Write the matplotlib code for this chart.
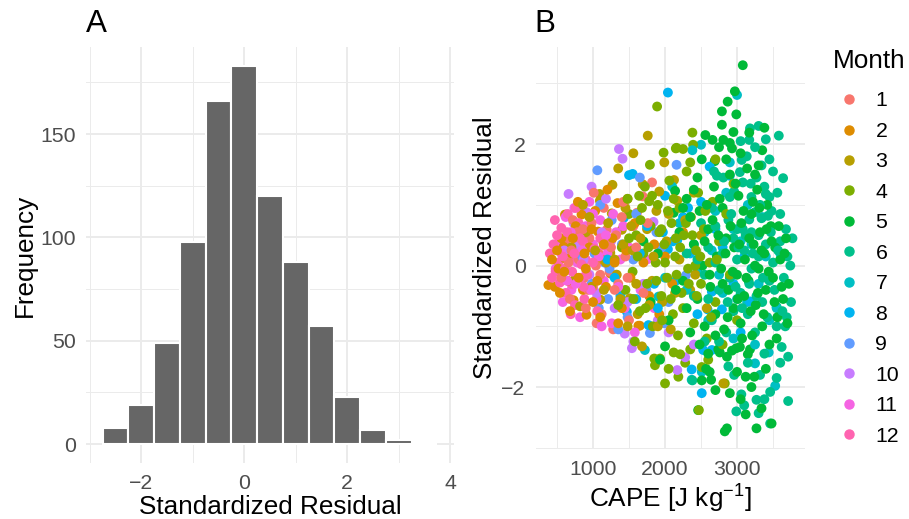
import matplotlib
matplotlib.use('Agg')
import matplotlib.pyplot as plt
from matplotlib.lines import Line2D

plt.rcParams['font.family'] = ['Liberation Sans', 'DejaVu Sans']
plt.rcParams['mathtext.fontset'] = 'custom'
plt.rcParams['mathtext.rm'] = 'Liberation Sans'
plt.rcParams['mathtext.it'] = 'Liberation Sans:italic'

# panel A: histogram of standardized residuals (bin width 0.5)
bin_centers = [-2.5, -2.0, -1.5, -1.0, -0.5, 0.0, 0.5, 1.0, 1.5, 2.0, 2.5, 3.0, 3.5]
counts = [8, 19, 49, 98, 166, 183, 120, 88, 57, 23, 7, 2, 0]

# panel B: (CAPE, standardized residual), by month
m1 = [(1820, 1.37), (1690, 1.14), (1190, 0.59), (1610, 0.87), (840, 0.92), (1050, -0.95), (1280, -1.05),
      (870, -0.21), (750, -0.26), (620, 0.40), (680, -0.55), (720, 0.75), (800, 0.10), (900, -0.70),
      (950, 0.45), (1000, -0.35), (1080, 0.20), (1120, -0.80), (1150, 0.95), (1230, -0.10), (1320, 0.50),
      (1380, -0.60), (1450, 0.15), (1500, -0.90), (1560, 0.65), (660, 0.05), (780, 0.55), (930, -0.40),
      (1010, 1.20), (1100, -0.15), (1250, 0.30), (1420, 1.05), (560, -0.20), (980, 0.70), (1350, -0.30),
      (700, 0.25), (860, 0.60), (1040, 0.00), (1170, 0.35), (1300, -0.40), (1400, 0.80), (1480, -0.20),
      (1600, 0.30), (1700, -0.45), (1760, 0.70)]
m2 = [(380, -0.32), (470, -0.35), (1340, 1.03), (610, 0.84), (1650, -0.99), (820, 0.59), (1070, 0.56),
      (840, 0.84), (610, 0.12), (730, -0.57), (910, -0.81), (1630, -0.99), (1240, -0.13), (590, 0.31),
      (520, -0.05), (560, 0.45), (650, -0.25), (700, 0.20), (760, 0.65), (860, -0.40), (950, 0.30),
      (1000, -0.60), (1120, 0.10), (1180, -0.35), (1270, 0.45), (1400, -0.70), (1460, 0.25), (1520, -0.20),
      (1580, 0.70), (1700, 0.05), (1780, -0.50), (1850, 0.35), (1920, -0.80), (2000, 0.15), (2100, -0.30),
      (2250, 0.55), (430, 0.10), (680, -0.75), (790, 1.05), (1030, 0.90), (1200, 1.25), (1350, -0.95),
      (1480, 1.10), (900, -0.05), (1100, -0.85), (500, 0.25), (540, -0.45), (600, -0.10), (720, 0.45),
      (800, -0.20), (880, 0.20), (980, 0.60), (1060, -0.25), (1150, 0.35), (1300, 0.05)]
m3 = [(1760, 2.14), (2125, 1.41), (2170, 1.07), (625, 0.84), (1270, 1.33), (1690, 1.34), (1920, 1.22),
      (1090, 1.18), (1095, 1.07), (1260, 0.86), (1400, 0.59), (1145, 0.38), (820, -0.67), (1100, -0.56),
      (1240, 0.21), (1510, -0.54), (1680, -1.33), (2350, -0.40), (2810, -1.94), (700, 0.30), (760, -0.20),
      (900, 0.55), (980, -0.35), (1180, 0.05), (1330, -0.15), (1450, 0.95), (1550, 0.25), (1620, -0.80),
      (1750, 0.60), (1820, -0.25), (1880, 0.90), (1960, -0.60), (2020, 0.40), (2080, -1.05), (2200, 0.10),
      (2280, 0.75), (2420, -0.15), (2500, 0.50), (2580, -0.70), (1350, 1.60), (1560, 1.85), (860, 1.00),
      (1480, -1.00), (2400, 1.20), (1990, 1.70), (950, 0.80), (1030, 0.25), (1150, -0.40), (1210, 0.70),
      (1300, 0.10), (1380, -0.55), (1420, 0.35), (1530, 0.65), (1600, -0.30), (1660, 0.45), (1780, -0.65),
      (1840, 0.15), (1900, -1.00), (2050, 0.85), (2140, -0.45)]
m4 = [(1890, 2.62), (2380, 2.19), (2390, 1.99), (2150, 1.93), (2250, 1.92), (2000, -1.94), (2830, -1.94),
      (2185, -1.83), (2280, -1.60), (2510, -1.67), (2350, -1.38), (2120, -1.43), (2210, -1.46), (1860, -1.64),
      (1850, -1.53), (1930, -1.53), (1980, 1.86), (2160, 1.94), (1790, 1.66), (1640, 1.15), (1780, 1.06),
      (2470, -2.38), (1400, 0.30), (1450, -0.40), (1500, 0.85), (1550, -0.10), (1600, 0.50), (1650, -0.75),
      (1700, 0.20), (1720, 1.30), (1750, -0.30), (1800, 0.65), (1830, -1.00), (1870, 0.05), (1900, 1.00),
      (1950, -0.50), (1990, 0.35), (2030, -0.20), (2060, 1.40), (2090, 0.70), (2110, -0.80), (2140, 0.15),
      (2180, -1.15), (2200, 0.95), (2230, -0.45), (2260, 0.50), (2300, 1.55), (2320, -0.05), (2360, 0.80),
      (2400, -0.95), (2430, 0.25), (2460, 1.20), (2500, -0.30), (2540, 0.60), (2580, -1.20), (2620, 0.05),
      (2660, 1.05), (2700, -0.60), (2750, 0.40), (2800, -1.30), (2850, 0.85), (2900, -0.15), (2950, 1.35),
      (3000, -0.90), (1350, -0.65), (1480, 1.10), (1580, -1.25), (1680, 0.95), (2050, -1.70), (2350, 1.70),
      (2600, -1.55), (2150, 0.45), (2420, 0.00), (1950, 0.60), (2700, 1.75), (1500, 0.45), (1560, -0.55),
      (1620, 0.15), (1660, 0.75), (1730, -0.70), (1770, 0.30), (1820, 1.15), (1880, -0.25), (1920, 0.55),
      (1960, -0.90), (2000, 0.05), (2040, 0.90), (2080, -0.55), (2120, 1.10), (2160, -0.15), (2210, 0.30),
      (2250, -0.70), (2290, 0.70), (2330, -0.30), (2380, 0.50), (2440, -0.50), (2490, 0.15), (2560, 0.90),
      (2640, -0.85), (2720, 0.10)]
m5 = [(3080, 3.30), (2970, 2.87), (2870, 2.70), (2790, 2.54), (2990, 2.49), (2790, 2.32), (2560, 2.15),
      (2660, 2.07), (2810, 2.07), (2900, 2.02), (2930, 1.93), (3380, 2.27), (3170, 2.19), (2510, 1.75),
      (2690, 1.72), (3120, -2.45), (3270, -2.68), (2860, -2.68), (2830, -2.73), (3480, -2.60), (2460, -2.38),
      (3120, -1.83), (3240, -1.83), (2510, -1.89), (2620, -1.75), (2640, -1.88), (2570, -1.70), (2860, -1.50),
      (2930, -1.40), (2990, -1.36), (3040, -1.34), (3150, -1.46), (3180, -1.38), (2760, -1.43), (2740, -1.38),
      (3340, -2.35), (2120, 0.87), (2140, 1.23), (2000, -1.33), (1930, -1.55), (1700, 0.40), (1800, -0.60),
      (1900, 0.20), (2050, -0.90), (2200, 0.55), (2250, -0.25), (2300, 1.10), (2350, -1.10), (2400, 0.35),
      (2450, -0.55), (2480, 0.90), (2520, 0.00), (2550, -1.00), (2600, 0.60), (2630, -0.35), (2680, 1.30),
      (2700, -0.80), (2720, 0.15), (2780, -0.05), (2800, 0.95), (2820, -1.05), (2850, 0.45), (2880, -0.40),
      (2900, 1.50), (2950, -0.70), (2960, 0.30), (3000, -0.15), (3020, 1.15), (3050, -0.95), (3060, 0.70),
      (3100, -0.50), (3110, 0.10), (3140, 1.60), (3160, -0.25), (3200, 0.85), (3210, -1.15), (3230, 0.35),
      (3260, -0.65), (3280, 1.25), (3300, -0.05), (3320, 0.55), (3350, -1.00), (3380, 0.20), (3400, -0.40),
      (3420, 1.00), (3450, -1.30), (3470, 0.65), (3500, -0.20), (3530, 0.30), (3560, -0.85), (3600, 0.10),
      (3640, -0.55), (3680, 0.45), (3720, -0.30), (3050, 1.85), (2750, 1.95), (3300, 1.65), (2450, 1.45),
      (2900, -2.10), (3050, -2.20), (3400, -1.70), (2700, -2.05), (3550, -1.20), (2350, 0.80), (2150, -0.40),
      (2600, -1.45), (3000, -1.75), (2950, 2.20), (3200, -2.00), (3350, 1.90), (2250, 0.95), (2300, -0.70),
      (2400, 1.25), (2480, -1.30), (2550, 0.40), (2580, 1.00), (2620, -0.15), (2660, 0.75), (2700, -1.15),
      (2740, 0.50), (2760, 1.10), (2800, -0.30), (2840, 0.20), (2870, -0.85), (2910, 0.65), (2940, -0.10),
      (2980, 1.35), (3010, -0.55), (3030, 0.35), (3070, -1.20), (3090, 0.90), (3130, -0.20), (3170, 0.45),
      (3190, -0.75), (3220, 1.05), (3250, 0.00), (3290, -0.45), (3310, 0.95), (3340, 0.25), (3370, -0.80),
      (3410, 0.60), (3440, -0.10), (3480, 0.40), (3520, -0.60), (3580, 0.65), (3620, -0.35), (3660, 0.20),
      (3700, -0.95), (2850, 1.75), (3250, 1.50)]
m6 = [(3180, 2.26), (3300, 2.30), (3400, 2.08), (3580, 2.14), (3170, 2.07), (3640, 1.44), (3770, 0.45),
      (3710, -1.50), (3620, -1.34), (3670, -1.00), (3690, -0.85), (3550, -0.68), (3710, -2.23), (3460, -2.08),
      (3270, -2.21), (3300, -2.43), (3060, -2.12), (3460, -2.60), (3320, -1.80), (2960, -1.80), (2880, -1.66),
      (2380, -1.89), (3135, 1.80), (3065, 1.74), (3040, 1.54), (3080, 1.37), (3190, 1.35), (3270, 1.45),
      (3340, 1.65), (3380, 1.30), (3400, 1.18), (3450, 1.13), (3200, 1.13), (2960, 1.22), (2900, 1.13),
      (2810, 1.45), (2720, 1.48), (2680, 1.55), (3250, 0.88), (3340, 0.78), (3430, 0.82), (3480, 0.90),
      (3170, 0.76), (3080, 0.60), (3200, 0.55), (3300, 0.50), (3000, 0.60), (2880, 0.75), (2950, 0.45),
      (2300, 0.20), (2400, -0.50), (2500, 0.70), (2550, -0.15), (2600, 0.30), (2650, -0.90), (2700, 0.05),
      (2750, -0.40), (2800, 0.20), (2850, -1.10), (2900, -0.20), (2950, -0.75), (3000, 0.10), (3050, -0.45),
      (3100, 0.25), (3150, -0.80), (3200, -0.05), (3250, -1.10), (3300, 0.15), (3350, -0.60), (3400, 0.35),
      (3450, -0.25), (3500, 0.05), (3550, -1.00), (3600, 0.40), (3650, -0.20), (3700, 0.15), (3750, -0.60),
      (3500, 1.55), (3600, 0.85), (3150, -1.60), (3380, -1.45), (2650, 0.95), (2550, -1.25), (3100, -2.30),
      (3550, -1.85), (2450, 0.10), (2600, -0.55), (2700, 0.65), (2750, -1.25), (2820, 0.40), (2870, -0.60),
      (2920, 0.85), (2980, -0.35), (3020, 0.30), (3070, -0.70), (3120, 0.50), (3170, -0.30), (3220, 0.20),
      (3270, -0.50), (3320, 1.00), (3360, -0.20), (3420, -0.85), (3470, 0.55), (3520, -0.40), (3570, 0.25),
      (3630, -0.75), (3680, 0.60), (3740, 0.00), (3560, 1.20), (3450, 1.75), (3250, 1.95), (3050, 2.05),
      (2990, -2.40), (3380, -2.20), (3600, -1.60)]
m7 = [(3000, 2.81), (2500, 1.99), (2380, 1.90), (3530, -1.98), (3440, -1.43), (3250, -1.61), (3140, -0.60),
      (2510, -1.75), (2370, -1.88), (1720, -1.39), (1910, -0.51), (2700, 0.90), (2850, 1.20), (3050, 0.40),
      (3300, -0.30), (2200, 0.70), (2600, -0.90), (2950, -1.20), (3400, 0.15), (2100, 1.30), (3150, 1.00),
      (2450, -0.10), (2800, -0.45), (3350, 0.80), (2000, -0.20), (2650, 0.25), (3550, -0.70), (2900, 1.70),
      (2300, -0.40), (2550, 0.55), (2750, -0.15), (3000, -0.55), (3200, 0.35), (3450, -0.90), (3600, 0.20),
      (2400, 0.35), (2950, 0.60), (3250, -1.30)]
m8 = [(2040, 2.85), (1550, 1.51), (1500, 1.49), (2000, 1.15), (1970, 0.55), (1430, 0.79), (2110, 0.40),
      (1380, -0.50), (1470, -0.76), (1770, -0.98), (2040, 0.27), (2650, -0.43), (2590, -0.72), (2790, -0.72),
      (2530, -1.39), (2650, -1.39), (2370, -1.71), (2510, -2.10), (2320, 0.95), (2620, 1.63), (2500, 1.05),
      (2170, 0.42), (2900, 1.48), (3180, -0.59), (1200, 0.10), (1300, -0.20), (2250, 0.80), (2800, 0.30),
      (3050, -1.10), (1850, -0.30), (1650, 0.20), (1750, 0.65), (1900, -0.70), (2150, -0.25), (2350, 0.20),
      (2450, -0.80), (2700, 0.60), (2950, -0.30), (3100, 0.15), (1600, -0.55)]
m9 = [(1060, 1.57), (2160, 1.66), (2290, -0.16), (1790, -1.11), (920, 0.60), (980, -0.30), (1020, 0.20),
      (1080, -0.70), (1120, 0.45), (1160, 0.05), (1210, -0.55), (1260, 0.75), (1320, -0.15), (1400, 0.35),
      (1480, -0.85), (1560, 0.10), (1650, 1.45), (1740, -0.40), (1880, 0.55), (1990, -0.95), (1100, 1.00),
      (1230, -0.05), (850, 0.15), (1350, -1.05), (1600, 0.85), (2050, -0.60), (1950, 0.30)]
m10 = [(1360, 1.92), (1410, 1.76), (660, 1.18), (980, 1.30), (730, 0.70), (910, 0.88), (1840, 0.72),
       (2170, -1.72), (2280, -1.51), (1540, -1.36), (1560, -1.25), (1440, -1.12), (1210, 0.01), (800, 0.35),
       (1050, -0.45), (1120, 0.55), (1300, -0.70), (1650, 0.20), (1900, -0.90), (2050, -1.10), (950, -0.15),
       (1180, 1.10), (1250, 0.40), (870, 0.10), (1480, -0.60), (2400, -1.30), (1700, -0.30), (600, 0.25)]
m11 = [(480, -0.05), (530, 0.40), (580, -0.60), (620, 0.80), (660, 0.15), (700, -0.40), (740, 0.95),
       (780, 0.05), (820, -0.85), (870, 0.50), (910, -0.10), (950, 1.05), (1000, 0.35), (1050, -0.55),
       (1100, 0.75), (1150, -0.25), (1200, 0.20), (1260, -0.95), (1320, 0.55), (1380, 0.10), (1440, -0.70),
       (1500, 0.30), (1580, -1.10), (1660, -0.40), (1750, 0.10), (1850, -0.70), (900, 0.65), (1120, -1.00),
       (1280, 0.85), (640, -0.25), (560, 0.20), (690, 0.55), (850, 0.25), (970, -0.40), (1080, 0.15),
       (1180, 0.50), (1350, -0.35), (1420, 0.65), (760, -0.30), (1000, 0.85)]
m12 = [(400, 0.20), (450, 0.35), (480, -0.10), (520, 0.05), (560, 0.62), (600, 0.30), (620, -0.45),
       (650, 0.85), (680, 0.12), (700, -0.30), (720, 0.50), (750, -0.65), (780, 0.25), (800, 0.70),
       (830, -0.20), (860, 0.40), (880, -0.55), (900, 0.10), (950, 0.60), (980, -0.35), (1020, 0.28),
       (1060, -0.75), (1100, 0.45), (540, -0.28), (610, -0.05), (690, -0.80), (760, 0.95), (840, 0.02),
       (920, -0.15), (1150, 0.33), (430, -0.20), (500, 0.50), (580, 0.15), (640, 0.55), (710, -0.10),
       (740, 0.20), (820, 0.45), (870, -0.35), (1000, 0.05), (470, 0.75)]

months = ['1', '2', '3', '4', '5', '6', '7', '8', '9', '10', '11', '12']
month_data = [m1, m2, m3, m4, m5, m6, m7, m8, m9, m10, m11, m12]
# ggplot default hue palette for 12 levels
colors = ['#F8766D', '#DE8C00', '#B79F00', '#7CAE00', '#00BA38', '#00C08B',
          '#00BFC4', '#00B4F0', '#619CFF', '#C77CFF', '#F564E3', '#FF64B0']

# draw months interleaved (like date-ordered rows spanning several years)
xs, ys, cs = [], [], []
for k in range(max(len(m) for m in month_data)):
    for pts, c in zip(month_data, colors):
        if k < len(pts):
            xs.append(pts[k][0])
            ys.append(pts[k][1])
            cs.append(c)

W, H = 909, 519
fig = plt.figure(figsize=(W / 100, H / 100), dpi=100)
fig.patch.set_facecolor('white')


def style(ax):
    for s in ax.spines.values():
        s.set_visible(False)
    ax.set_axisbelow(True)
    ax.grid(which='major', color='#EBEBEB', linewidth=1.4)
    ax.grid(which='minor', color='#EBEBEB', linewidth=0.7)
    ax.tick_params(which='both', length=0, labelsize=15.3, labelcolor='#4D4D4D')
    ax.tick_params(axis='x', pad=8)
    ax.tick_params(axis='y', pad=7.5)


# panel A
ax1 = fig.add_axes([86 / W, 1 - 463 / H, 368 / W, 416 / H])
ax1.bar(bin_centers, counts, width=0.5, color='#666666', edgecolor='white', linewidth=1.5)
ax1.set_xlim(-3.075, 4.075)
ax1.set_ylim(-9.15, 192.15)
ax1.set_xticks([-2, 0, 2, 4])
ax1.set_xticks([-3, -1, 1, 3], minor=True)
ax1.set_yticks([0, 50, 100, 150])
ax1.set_yticks([25, 75, 125, 175], minor=True)
style(ax1)

# panel B
ax2 = fig.add_axes([536 / W, 1 - 449 / H, 269 / W, 402 / H])
ax2.scatter(xs, ys, s=50, c=cs, linewidths=0)
ax2.set_xlim(208, 3944)
ax2.set_ylim(-3.02, 3.60)
ax2.set_xticks([1000, 2000, 3000])
ax2.set_xticks([500, 1500, 2500, 3500], minor=True)
ax2.set_yticks([-2, 0, 2])
ax2.set_yticks([-3, -1, 1, 3], minor=True)
style(ax2)

# titles and axis labels
fig.text(86 / W, 1 - 32 / H, 'A', fontsize=22.6, va='baseline', ha='left')
fig.text(534 / W, 1 - 32 / H, 'B', fontsize=22.6, va='baseline', ha='left')
fig.text(270 / W, 4.5 / H, 'Standardized Residual', fontsize=18.8, ha='center', va='baseline')
fig.text(670.5 / W, 11.5 / H, r'CAPE [J kg$^{-1}$]', fontsize=18.8, ha='center', va='baseline')
fig.text(37 / W, 1 - 255 / H, 'Frequency', fontsize=18.8, rotation=90, ha='right', va='center')
fig.text(497 / W, 1 - 248 / H, 'Standardized Residual', fontsize=18.8, rotation=90, ha='right', va='center')

# legend
fig.text(833 / W, 1 - 68 / H, 'Month', fontsize=18.8, va='baseline', ha='left')
handles = [Line2D([], [], marker='o', linestyle='', color=c, markersize=6.5) for c in colors]
fig.legend(handles, months, loc='upper left', bbox_to_anchor=(833 / W, 1 - 91.5 / H),
           frameon=False, fontsize=15.3, labelspacing=0.54, handlelength=1.5,
           handletextpad=0.5, borderpad=0, borderaxespad=0)

fig.savefig('out.png', dpi=100, facecolor='white')
